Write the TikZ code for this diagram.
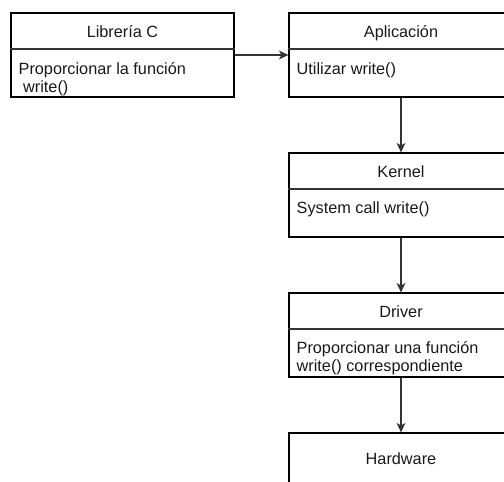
\documentclass[tikz,border=0pt]{standalone}
\usepackage{fontspec}
\setmainfont{Liberation Sans}
\usetikzlibrary{arrows.meta,calc}

% multi-line body text whose baseline is that of its first line
\newcommand{\bodylines}[1]{\begin{tabular}[t]{@{}l@{}}#1\end{tabular}}

\tikzset{
  every node/.style={font=\fontsize{12.2pt}{13.5pt}\selectfont, text=black!90},
  card/.style={draw=black, line width=0.9pt, rectangle, inner sep=0pt,
               minimum width=168pt, minimum height=63pt},
  libcard/.style={card, minimum width=167.25pt},
  plaincard/.style={card, minimum height=45pt},
  headline/.style={draw=black!80, line width=0.9pt},
  title/.style={anchor=base, inner sep=0pt},
  body/.style={anchor=base west, inner sep=0pt},
  conn/.style={draw=black!80, line width=0.9pt,
               -{Stealth[length=7pt, width=6.5pt, inset=1.8pt]}},
}

\begin{document}
\begin{tikzpicture}[x=0.75pt, y=-0.75pt]
  \useasboundingbox (0,0) rectangle (504,482);
  \clip (0,0) rectangle (504,482);

  % boxes
  \node[libcard]   (lib)    at (122.5,55) {};
  \node[card]      (app)    at (401,55)   {};
  \node[card]      (kernel) at (401,195)  {};
  \node[card]      (driver) at (401,335)  {};
  \node[plaincard] (hw)     at (401,463)  {};

  % header separators
  \foreach \b in {lib,app,kernel,driver}
    \draw[headline] ($(\b.north west)+(0,36.5)$) -- ($(\b.north east)+(0,36.5)$);

  % titles
  \node[title] (libT)    at ($(lib.north)+(0,25.5)$)    {Librería C};
  \node[title] (appT)    at ($(app.north)+(0,25.5)$)    {Aplicación};
  \node[title] (kernelT) at ($(kernel.north)+(0,25.5)$) {Kernel};
  \node[title] (driverT) at ($(driver.north)+(0,25.5)$) {Driver};
  \node[title] (hwT)     at ($(hw.north)+(0,32)$)       {Hardware};

  % contents
  \node[body] (libB)    at ($(lib.north west)+(8,62.5)$)
    {\bodylines{Proporcionar la función\\\ write()}};
  \node[body] (appB)    at ($(app.north west)+(8,62)$)    {Utilizar write()};
  \node[body] (kernelB) at ($(kernel.north west)+(8,61.5)$) {System call write()};
  \node[body] (driverB) at ($(driver.north west)+(8,61.5)$)
    {\bodylines{Proporcionar una función\\write() correspondiente}};

  % connectors
  \draw[conn] (lib.east) -- (app.west);
  \draw[conn] (app.south) -- (kernel.north);
  \draw[conn] (kernel.south) -- (driver.north);
  \draw[conn] (driver.south) -- (hw.north);
\end{tikzpicture}
\end{document}
